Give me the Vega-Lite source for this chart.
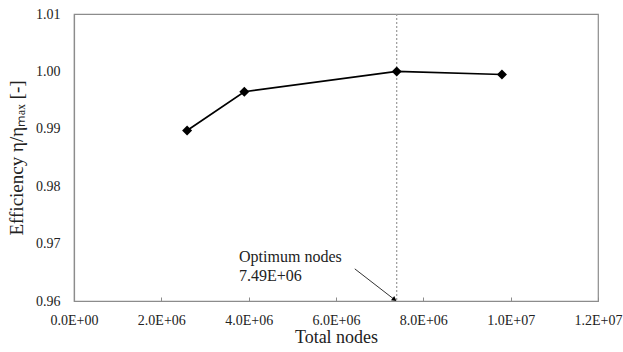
{
  "$schema": "https://vega.github.io/schema/vega-lite/v6.json",
  "autosize": "none",
  "width": 524,
  "height": 287,
  "padding": {"left": 74, "top": 14, "right": 25, "bottom": 51},
  "background": "white",
  "config": {
    "font": "Liberation Serif",
    "view": {"stroke": "#8c8c8c", "strokeWidth": 1.2},
    "axis": {"grid": false, "domainColor": "#8c8c8c", "domainWidth": 1.2, "tickColor": "#8c8c8c", "labelFont": "Liberation Serif", "titleFont": "Liberation Serif", "labelFontSize": 14, "titleFontSize": 18, "labelColor": "#222", "titleColor": "#222", "titleFontWeight": "normal"}
  },
  "datasets": {
    "series": [
      {"nodes": 2590000, "eff": 0.9897},
      {"nodes": 3900000, "eff": 0.99646},
      {"nodes": 7390000, "eff": 1.0},
      {"nodes": 9800000, "eff": 0.99946}
    ],
    "opt": [{"nodes": 7390000}],
    "arrow": [
      {"nodes": 6430000, "eff": 0.9656},
      {"nodes": 7330000, "eff": 0.9603}
    ],
    "head": [{"nodes": 7340000, "eff": 0.96025}],
    "label": [{"nodes": 3780000, "eff": 0.96682, "txt": "Optimum nodes\n7.49E+06"}]
  },
  "layer": [
    {
      "data": {"name": "opt"},
      "mark": {"type": "rule", "color": "#999", "strokeDash": [2, 2], "strokeWidth": 1.2},
      "encoding": {"x": {"field": "nodes", "type": "quantitative"}}
    },
    {
      "data": {"name": "series"},
      "mark": {"type": "line", "color": "black", "strokeWidth": 1.7},
      "encoding": {
        "x": {
          "field": "nodes", "type": "quantitative",
          "scale": {"domain": [0, 12000000], "nice": false},
          "axis": {
            "title": "Total nodes",
            "values": [0, 2000000, 4000000, 6000000, 8000000, 10000000, 12000000],
            "labelExpr": "replace(replace(format(datum.value, '.1e'), 'e+', 'E+0'), 'E+01', 'E+1')",
            "tickSize": -4,
            "labelPadding": 16,
            "titlePadding": 1,
            "labelFlush": false
          }
        },
        "y": {
          "field": "eff", "type": "quantitative",
          "scale": {"domain": [0.96, 1.01], "nice": false, "zero": false},
          "axis": {
            "title": "Efficiency η/ηₘₐₓ [-]",
            "titleFontSize": 19,
            "values": [0.96, 0.97, 0.98, 0.99, 1.0, 1.01],
            "format": ".2f",
            "ticks": false,
            "labelPadding": 14,
            "titlePadding": 9,
            "labelFlush": false
          }
        }
      }
    },
    {
      "data": {"name": "series"},
      "mark": {"type": "point", "shape": "diamond", "filled": true, "color": "black", "size": 100, "opacity": 1},
      "encoding": {
        "x": {"field": "nodes", "type": "quantitative"},
        "y": {"field": "eff", "type": "quantitative"}
      }
    },
    {
      "data": {"name": "arrow"},
      "mark": {"type": "line", "color": "#333", "strokeWidth": 1},
      "encoding": {
        "x": {"field": "nodes", "type": "quantitative"},
        "y": {"field": "eff", "type": "quantitative"}
      }
    },
    {
      "data": {"name": "head"},
      "mark": {"type": "point", "shape": "triangle-right", "filled": true, "color": "black", "size": 30, "angle": 37, "opacity": 1},
      "encoding": {
        "x": {"field": "nodes", "type": "quantitative"},
        "y": {"field": "eff", "type": "quantitative"}
      }
    },
    {
      "data": {"name": "label"},
      "mark": {"type": "text", "align": "left", "baseline": "alphabetic", "fontSize": 16, "lineBreak": "\n", "lineHeight": 19, "color": "#222"},
      "encoding": {
        "x": {"field": "nodes", "type": "quantitative"},
        "y": {"field": "eff", "type": "quantitative"},
        "text": {"field": "txt"}
      }
    }
  ]
}
